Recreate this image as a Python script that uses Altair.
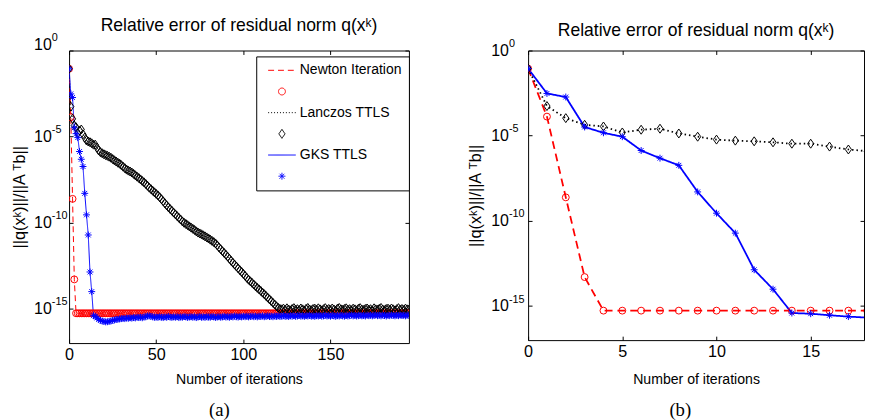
import altair as alt
import pandas as pd

# ---------------- data (log10 of relative error) -------------
iterations = list(range(196))

newton_exp = [
    -1.06, -3.88, -8.62, -13.30,
    -15.27, -15.27, -15.27, -15.27, -15.27, -15.27, -15.27, -15.27, -15.27, -15.27, -15.27, -15.27, -15.27, -15.27, -15.27, -15.27,
    -15.27, -15.27, -15.27, -15.27, -15.27, -15.27, -15.27, -15.27, -15.27, -15.27, -15.27, -15.27, -15.27, -15.27, -15.27, -15.27,
    -15.27, -15.27, -15.27, -15.27, -15.27, -15.27, -15.27, -15.27, -15.27, -15.27, -15.27, -15.27, -15.27, -15.27, -15.27, -15.27,
    -15.27, -15.27, -15.27, -15.27, -15.27, -15.27, -15.27, -15.27, -15.27, -15.27, -15.27, -15.27, -15.27, -15.27, -15.27, -15.27,
    -15.27, -15.27, -15.27, -15.27, -15.27, -15.27, -15.27, -15.27, -15.27, -15.27, -15.27, -15.27, -15.27, -15.27, -15.27, -15.27,
    -15.27, -15.27, -15.27, -15.27, -15.27, -15.27, -15.27, -15.27, -15.27, -15.27, -15.27, -15.27, -15.27, -15.27, -15.27, -15.27,
    -15.27, -15.27, -15.27, -15.27, -15.27, -15.27, -15.27, -15.27, -15.27, -15.27, -15.27, -15.27, -15.27, -15.27, -15.27, -15.27,
    -15.27, -15.27, -15.27, -15.27, -15.27, -15.27, -15.27, -15.27, -15.27, -15.27, -15.27, -15.27, -15.27, -15.27, -15.27, -15.27,
    -15.27, -15.27, -15.27, -15.27, -15.27, -15.27, -15.27, -15.27, -15.27, -15.27, -15.27, -15.27, -15.27, -15.27, -15.27, -15.27,
    -15.27, -15.27, -15.27, -15.27, -15.27, -15.27, -15.27, -15.27, -15.27, -15.27, -15.27, -15.27, -15.27, -15.27, -15.27, -15.27,
    -15.27, -15.27, -15.27, -15.27, -15.27, -15.27, -15.27, -15.27, -15.27, -15.27, -15.27, -15.27, -15.27, -15.27, -15.27, -15.27,
    -15.27, -15.27, -15.27, -15.27, -15.27, -15.27, -15.27, -15.27, -15.27, -15.27, -15.27, -15.27, -15.27, -15.27, -15.27, -15.27,
]

lanczos_exp = [
    -1.06, -3.26, -3.97, -4.36, -4.46, -4.81, -4.65, -4.59, -4.87, -5.06,
    -5.23, -5.29, -5.33, -5.39, -5.47, -5.47, -5.64, -5.81, -5.91,
    -5.97, -6.03, -6.08, -6.12, -6.17, -6.23, -6.31, -6.38, -6.45, -6.52,
    -6.58, -6.66, -6.75, -6.84, -6.92, -6.98, -7.03, -7.09, -7.17, -7.25,
    -7.33, -7.41, -7.49, -7.58,
    -7.66, -7.76, -7.86, -7.97, -8.06, -8.15, -8.24, -8.33, -8.42, -8.53,
    -8.64, -8.76, -8.88, -9.00, -9.11, -9.21, -9.31, -9.42, -9.52, -9.62,
    -9.72, -9.82, -9.93, -10.01, -10.08, -10.15, -10.22, -10.29, -10.36, -10.43,
    -10.51, -10.58, -10.63, -10.68, -10.74, -10.80, -10.86, -10.92, -10.99, -11.06,
    -11.13, -11.21, -11.32, -11.44, -11.55, -11.66, -11.76, -11.87, -11.98, -12.10,
    -12.22, -12.33, -12.44, -12.55, -12.66, -12.77, -12.87, -12.98, -13.09, -13.21,
    -13.32, -13.41, -13.50, -13.60, -13.70, -13.79, -13.88, -13.97, -14.07, -14.16,
    -14.26, -14.36, -14.46, -14.56, -14.66, -14.76, -14.86, -14.95, -15.02,
    -15.04, -15.00, -15.07, -14.98, -15.05, -15.10, -15.02, -14.97, -15.06, -15.03,
    -15.08, -14.99, -15.04, -15.11, -15.01, -14.96, -15.05, -15.09, -15.02, -15.00,
    -15.07, -14.98, -15.04, -15.10, -15.03, -14.97, -15.06, -15.02, -15.08, -14.99,
    -15.05, -15.11, -15.00, -14.96, -15.04, -15.07, -15.02, -14.98, -15.06, -15.03,
    -15.09, -15.00, -15.04, -15.10, -15.01, -14.97, -15.05, -15.08, -15.02, -14.99,
    -15.06, -15.03, -15.10, -14.98, -15.04, -15.07, -15.01, -14.96, -15.05, -15.09,
    -15.02, -15.00, -15.07, -14.99, -15.04, -15.11, -15.03, -14.97, -15.06, -15.02,
    -15.08, -15.00, -15.04, -15.05,
]

gks_exp = [
    -1.06, -2.52, -2.73, -4.49, -4.83, -5.06, -5.87, -6.32, -6.74, -8.30,
    -9.55, -10.72, -12.87, -14.01, -15.41, -15.45, -15.54, -15.62, -15.68,
    -15.72, -15.75, -15.77, -15.76, -15.74, -15.72, -15.68, -15.66, -15.63, -15.62,
    -15.60, -15.58, -15.57, -15.58, -15.55, -15.56, -15.53, -15.55, -15.52, -15.54,
    -15.50, -15.52, -15.50, -15.53, -15.49, -15.47, -15.43, -15.42, -15.45, -15.48,
    -15.50, -15.49, -15.51, -15.47, -15.50, -15.52, -15.48, -15.50, -15.46, -15.49,
    -15.51, -15.48, -15.50, -15.47, -15.52, -15.49, -15.50, -15.46, -15.48, -15.51,
    -15.49, -15.47, -15.50, -15.48, -15.52, -15.49, -15.46, -15.50, -15.48, -15.51,
    -15.47, -15.49, -15.50, -15.46, -15.48, -15.51, -15.49, -15.47, -15.50, -15.48,
    -15.45, -15.49, -15.47, -15.50, -15.46, -15.48, -15.44, -15.47, -15.49, -15.46,
    -15.48, -15.45, -15.47, -15.44, -15.48, -15.46, -15.43, -15.47, -15.45, -15.48,
    -15.44, -15.46, -15.43, -15.47, -15.45, -15.42, -15.46, -15.44, -15.47, -15.43,
    -15.45, -15.42, -15.46, -15.44, -15.41, -15.45, -15.43, -15.46, -15.42, -15.44,
    -15.41, -15.45, -15.43, -15.40, -15.44, -15.42, -15.45, -15.41, -15.43, -15.40,
    -15.44, -15.42, -15.45, -15.41, -15.43, -15.40, -15.44, -15.42, -15.39, -15.43,
    -15.41, -15.44, -15.40, -15.42, -15.45, -15.41, -15.43, -15.39, -15.42, -15.44,
    -15.40, -15.43, -15.41, -15.38, -15.42, -15.40, -15.43, -15.41, -15.39, -15.42,
    -15.40, -15.43, -15.38, -15.41, -15.39, -15.42, -15.40, -15.37, -15.41, -15.39,
    -15.42, -15.38, -15.40, -15.43, -15.39, -15.41, -15.38, -15.40, -15.42, -15.39,
    -15.41, -15.38, -15.40, -15.39, -15.42, -15.38, -15.40,
]

series_names = ["Newton Iteration", "Lanczos TTLS", "GKS TTLS"]
marker_names = ["Newton marker", "Lanczos marker", "GKS marker"]
legend_order = ["Newton Iteration", "Newton marker", "Lanczos TTLS",
                "Lanczos marker", "GKS TTLS", "GKS marker"]
legend_colors = ["#ff0000", "#ff0000", "#000000", "#000000", "#0000ff", "#0000ff"]

y_tick_values = [1e-15, 1e-10, 1e-5, 1.0]
x_ticks_a = [0, 50, 100, 150]
x_ticks_b = [0, 5, 10, 15]

TITLE = "Relative error of residual norm q(x\u1d4f)"
YTITLE = "||q(x\u1d4f)||/||A \u1d40b||"
XTITLE = "Number of iterations"

# ---------------- styling -------------
FONT = "Liberation Sans, Arial, Helvetica, sans-serif"
SERIF = "Liberation Serif, Times New Roman, serif"
LINE_SYM = "M-4,0L4,0"
DIAMOND = "M0,-1.3L0.9,0L0,1.3L-0.9,0Z"
ASTER = "M0,-1L0,1M-1,0L1,0M-0.7,-0.7L0.7,0.7M-0.7,0.7L0.7,-0.7"
legend_shapes = [LINE_SYM, "circle", LINE_SYM, DIAMOND, LINE_SYM, ASTER]

line_rows, mark_rows = [], []
for name, mname, exps in zip(series_names, marker_names, [newton_exp, lanczos_exp, gks_exp]):
    for it, e in zip(iterations, exps):
        line_rows.append({"it": it, "val": 10.0 ** e, "key": name})
        mark_rows.append({"it": it, "val": 10.0 ** e, "key": mname})
df_line = pd.DataFrame(line_rows)
df_mark = pd.DataFrame(mark_rows)

TOP_TEST = "datum.value > 0.5"


def panel(W, H, xdom, xvals, xmax_it, caption, lab_pad, ytitle_x, cap_x, cap_y,
          xtitle_y, lw, dashes, show_legend, top_raise):
    dl = df_line[df_line["it"] <= xmax_it]
    dm = df_mark[df_mark["it"] <= xmax_it]
    xs = alt.Scale(domain=xdom, nice=False, zero=False)
    ys = alt.Scale(type="log", domain=[1e-17, 1], nice=False)
    cscale = alt.Scale(domain=legend_order, range=legend_colors)
    dscale = alt.Scale(domain=legend_order, range=dashes)
    sscale = alt.Scale(domain=legend_order, range=legend_shapes)
    if show_legend:
        leg = alt.Legend(orient="none", legendX=190, legendY=6, title=None,
                         labelExpr="indexof(datum.label, 'marker') >= 0 ? ' ' : datum.label",
                         symbolSize=49, symbolStrokeWidth=1, symbolOffset=12, labelOffset=11,
                         rowPadding=6.5, padding=7, strokeColor="black", fillColor="white",
                         labelFontSize=14.2, labelFont=FONT, labelColor="black", labelLimit=300,
                         cornerRadius=0, direction="vertical")
    else:
        leg = None

    ax_x_main = alt.Axis(orient="bottom", values=xvals, ticks=False, tickSize=0, labelPadding=4,
                         labelFontSize=16.4, domain=False, title=XTITLE, titleFontSize=14.3,
                         titleX=W / 2, titleY=xtitle_y, titleBaseline="alphabetic")
    ax_x_cap = alt.Axis(orient="bottom", values=xvals, labels=False, ticks=False, domain=False,
                        title=caption, titleFont=SERIF, titleFontSize=19, titleFontWeight="normal",
                        titleX=cap_x, titleY=cap_y, titleBaseline="middle")
    ax_x_up = alt.Axis(orient="top", offset=-H, values=xvals, labels=False, ticks=True,
                       tickSize=4, domain=False, title=None)
    ax_x_down = alt.Axis(orient="bottom", offset=-H, values=xvals, labels=False, ticks=True,
                         tickSize=4, domain=False, title=None)

    ax_y_main = alt.Axis(orient="left", values=y_tick_values, labelExpr="'10'", labelAlign="left",
                         labelPadding=lab_pad, ticks=False, tickSize=0, labelFontSize=16.2,
                         labelOffset={"condition": {"test": TOP_TEST, "value": -top_raise},
                                      "value": 0},
                         labelBaseline="middle", domain=False, title=YTITLE, titleFontSize=16.5,
                         titleX=ytitle_x, titleY=H / 2, titleBaseline="middle", titleAngle=270)
    ax_y_exp = alt.Axis(orient="left", values=y_tick_values,
                        labelExpr="'' + round(log(datum.value) / LN10)", labelAlign="left",
                        labelPadding=lab_pad - 18,
                        labelOffset={"condition": {"test": TOP_TEST, "value": -7 - top_raise},
                                     "value": -7},
                        ticks=False, tickSize=0,
                        labelFontSize=11, labelBaseline="middle", domain=False, title=None)
    ax_y_lefttick = alt.Axis(orient="right", offset=-W, values=y_tick_values, labels=False,
                             ticks=True, tickSize=4, domain=False, title=None)
    ax_y_righttick = alt.Axis(orient="left", offset=-W, values=y_tick_values, labels=False,
                              ticks=True, tickSize=4, domain=False, title=None)

    lines = alt.Chart(dl).mark_line(strokeWidth=lw, clip=True).encode(
        x=alt.X("it:Q", scale=xs, axis=ax_x_main),
        y=alt.Y("val:Q", scale=ys, axis=ax_y_main),
        color=alt.Color("key:N", scale=cscale, legend=leg),
        strokeDash=alt.StrokeDash("key:N", scale=dscale, legend=leg),
    )
    points = alt.Chart(dm).mark_point(filled=False, size=49, strokeWidth=1, opacity=1,
                                      clip=True).encode(
        x=alt.X("it:Q", scale=xs, axis=ax_x_cap),
        y=alt.Y("val:Q", scale=ys, axis=ax_y_exp),
        color=alt.Color("key:N", scale=cscale, legend=leg),
        shape=alt.Shape("key:N", scale=sscale, legend=leg),
    )
    inv1 = alt.Chart(dm.head(2)).mark_point(opacity=0).encode(
        x=alt.X("it:Q", scale=xs, axis=ax_x_up),
        y=alt.Y("val:Q", scale=ys, axis=ax_y_lefttick),
    )
    inv2 = alt.Chart(dm.head(2)).mark_point(opacity=0).encode(
        x=alt.X("it:Q", scale=xs, axis=ax_x_down),
        y=alt.Y("val:Q", scale=ys, axis=ax_y_righttick),
    )
    return alt.layer(lines, points, inv1, inv2).resolve_axis(
        x="independent", y="independent"
    ).properties(
        width=W, height=H,
        title=alt.TitleParams(TITLE, fontSize=17.8, font=FONT, fontWeight="normal",
                              color="black", anchor="middle", frame="group",
                              baseline="alphabetic", offset=-16.5),
    )


left = panel(W=345, H=297, xdom=[0, 195], xvals=x_ticks_a, xmax_it=195, caption="(a)",
             lab_pad=36, ytitle_x=-50, cap_x=152, cap_y=68, xtitle_y=41, lw=1,
             dashes=[[6, 4], [1, 0], [1, 2], [1, 0], [1, 0], [1, 0]],
             show_legend=True, top_raise=6)
right = panel(W=341, H=294, xdom=[0, 17.83], xvals=x_ticks_b, xmax_it=18, caption="(b)",
              lab_pad=38, ytitle_x=-53, cap_x=154, cap_y=71, xtitle_y=44, lw=1.8,
              dashes=[[8, 5], [1, 0], [1.5, 3], [1, 0], [1, 0], [1, 0]],
              show_legend=False, top_raise=0)

chart = alt.hconcat(left, right, spacing=121, bounds="flush").resolve_scale(
    x="independent", y="independent", color="independent", shape="independent",
    strokeDash="independent"
).properties(
    padding={"left": 3, "top": 5, "right": 0, "bottom": 0}
).configure_view(stroke="black", strokeWidth=1).configure_axis(
    labelFont=FONT, titleFont=FONT, labelColor="black", titleColor="black",
    domainColor="black", tickColor="black", domainWidth=1, tickWidth=1, grid=False,
    labelFlush=False, labelOverlap=False, titleFontWeight="normal"
).configure_legend(strokeWidth=1)

chart.save("out.html", embed_options={"renderer": "svg", "actions": False})
